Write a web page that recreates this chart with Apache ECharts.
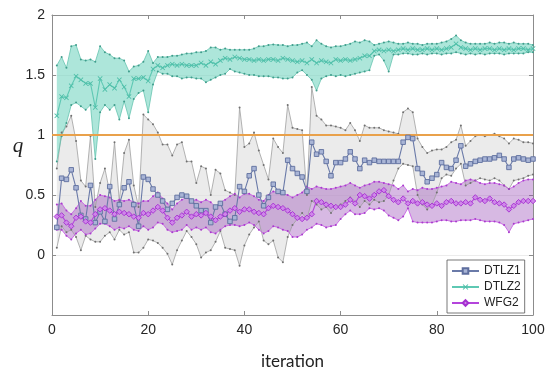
<!DOCTYPE html>
<html>
<head>
<meta charset="utf-8">
<script src="https://cdn.jsdelivr.net/npm/echarts@6/dist/echarts.min.js"></script>
<style>
html,body{margin:0;padding:0;background:#fff;}
#chart{width:558px;height:375px;}
</style>
</head>
<body>
<div id="chart"></div>
<script>
// ---------------- data ----------------
const iterations = Array.from({length: 100}, (_, k) => k + 1);
const xTicks = [0, 20, 40, 60, 80, 100];
const yTicks = [0, 0.5, 1, 1.5, 2];
const refLevel = 1;

const dtlz1Mean = [0.23,0.64,0.63,0.71,0.56,0.33,0.30,0.58,0.27,0.36,
  0.28,0.57,0.30,0.42,0.56,0.61,0.42,0.24,0.65,0.63,
  0.55,0.50,0.45,0.38,0.43,0.48,0.50,0.49,0.45,0.41,
  0.37,0.37,0.27,0.40,0.43,0.34,0.28,0.31,0.57,0.53,
  0.66,0.72,0.50,0.41,0.48,0.59,0.53,0.52,0.79,0.72,
  0.68,0.65,0.53,0.94,0.84,0.86,0.78,0.66,0.77,0.77,
  0.80,0.86,0.80,0.72,0.79,0.77,0.79,0.78,0.78,0.78,
  0.78,0.78,0.94,0.98,0.97,0.72,0.68,0.61,0.64,0.67,
  0.77,0.73,0.72,0.79,0.91,0.74,0.76,0.78,0.79,0.80,
  0.80,0.81,0.83,0.80,0.73,0.80,0.81,0.80,0.79,0.80];
const dtlz1Upper = [0.72,1.02,1.07,1.16,0.95,0.62,0.57,0.99,0.40,0.60,
  0.72,0.52,0.94,0.45,0.85,0.96,0.58,0.40,1.17,1.13,
  1.09,1.02,0.92,0.92,0.83,0.92,0.94,0.78,0.78,0.60,
  0.74,0.72,0.50,0.71,0.68,0.54,0.52,0.50,1.23,0.90,
  0.93,1.02,0.87,0.75,0.63,0.97,0.90,0.85,1.25,1.06,
  1.05,1.04,0.50,1.40,1.16,1.13,1.08,1.08,1.07,1.06,
  1.04,1.10,1.04,0.95,1.08,1.06,1.06,1.06,1.04,1.03,
  1.02,1.01,1.19,1.22,1.19,0.97,0.90,0.85,0.87,0.88,
  0.88,0.90,0.94,0.96,1.08,0.91,0.95,0.99,1.00,0.99,
  1.00,1.01,0.99,0.97,0.93,0.97,0.96,0.94,0.94,0.93];
const dtlz1Lower = [0.06,0.24,0.19,0.21,0.15,0.04,0.16,0.13,0.11,0.11,
  0.16,0.19,0.13,0.21,0.17,0.19,0.02,0.02,0.06,0.13,
  0.12,0.10,0.06,0.01,-0.08,0.04,0.12,0.20,0.15,0.09,
  -0.02,0.02,0.04,0.11,0.20,0.06,0.05,0.04,-0.09,0.08,
  0.17,0.23,0.28,0.12,0.09,0.12,-0.02,-0.06,0.15,0.25,
  0.30,0.35,0.30,0.45,0.42,0.38,0.40,0.35,0.40,0.42,
  0.45,0.48,0.44,0.40,0.45,0.42,0.46,0.44,0.45,0.50,
  0.62,0.72,0.76,0.75,0.74,0.50,0.42,0.38,0.42,0.52,
  0.64,0.67,0.66,0.72,0.76,0.58,0.60,0.62,0.64,0.63,
  0.62,0.64,0.62,0.58,0.55,0.62,0.63,0.64,0.66,0.67];

const dtlz2Mean = [1.16,1.32,1.31,1.41,1.49,1.46,1.43,1.43,1.23,1.47,
  1.38,1.42,1.39,1.46,1.40,1.32,1.47,1.47,1.48,1.45,
  1.55,1.58,1.56,1.58,1.59,1.58,1.59,1.58,1.58,1.58,
  1.60,1.58,1.61,1.59,1.62,1.64,1.63,1.65,1.64,1.63,
  1.63,1.62,1.63,1.62,1.63,1.63,1.62,1.64,1.63,1.62,
  1.61,1.62,1.60,1.63,1.60,1.62,1.61,1.60,1.63,1.62,
  1.63,1.62,1.63,1.64,1.66,1.66,1.70,1.71,1.70,1.71,
  1.70,1.71,1.72,1.71,1.72,1.71,1.71,1.72,1.71,1.72,
  1.71,1.72,1.73,1.76,1.73,1.72,1.71,1.72,1.71,1.72,
  1.72,1.71,1.72,1.71,1.72,1.71,1.72,1.72,1.71,1.72];
const dtlz2Upper = [1.58,1.65,1.56,1.74,1.75,1.63,1.62,1.63,1.61,1.74,
  1.69,1.67,1.64,1.64,1.62,1.53,1.57,1.58,1.61,1.70,
  1.60,1.65,1.65,1.65,1.66,1.66,1.67,1.68,1.68,1.69,
  1.69,1.70,1.73,1.73,1.71,1.72,1.71,1.71,1.71,1.71,
  1.71,1.72,1.74,1.74,1.75,1.755,1.75,1.75,1.74,1.75,
  1.75,1.76,1.77,1.74,1.79,1.76,1.74,1.73,1.74,1.74,
  1.75,1.76,1.78,1.77,1.79,1.78,1.75,1.76,1.77,1.78,
  1.77,1.76,1.76,1.77,1.76,1.76,1.75,1.76,1.76,1.76,
  1.77,1.78,1.80,1.83,1.79,1.77,1.76,1.76,1.76,1.76,
  1.77,1.76,1.77,1.77,1.76,1.77,1.76,1.76,1.76,1.75];
const dtlz2Lower = [0.78,0.99,1.10,1.25,1.27,1.24,1.21,1.25,0.80,1.19,
  1.25,1.21,1.25,1.13,1.28,1.14,1.30,1.35,1.37,1.19,
  1.42,1.53,1.51,1.51,1.49,1.49,1.47,1.48,1.48,1.47,
  1.47,1.44,1.46,1.48,1.50,1.51,1.55,1.53,1.52,1.51,
  1.50,1.50,1.49,1.49,1.49,1.48,1.48,1.47,1.47,1.48,
  1.52,1.54,1.50,1.46,1.37,1.47,1.49,1.50,1.49,1.50,
  1.49,1.50,1.51,1.52,1.53,1.54,1.66,1.67,1.62,1.53,
  1.67,1.67,1.68,1.68,1.67,1.67,1.68,1.67,1.68,1.68,
  1.67,1.68,1.68,1.69,1.68,1.67,1.68,1.67,1.68,1.67,
  1.68,1.68,1.68,1.67,1.68,1.68,1.68,1.68,1.69,1.69];

const wfg2Mean = [0.32,0.33,0.27,0.24,0.31,0.32,0.28,0.27,0.34,0.38,
  0.39,0.37,0.34,0.36,0.35,0.34,0.32,0.31,0.35,0.34,
  0.37,0.40,0.37,0.31,0.27,0.31,0.33,0.36,0.32,0.34,
  0.33,0.35,0.32,0.29,0.32,0.34,0.37,0.39,0.36,0.38,
  0.38,0.36,0.35,0.34,0.39,0.41,0.40,0.39,0.37,0.34,
  0.31,0.30,0.31,0.34,0.45,0.44,0.42,0.41,0.40,0.40,
  0.42,0.46,0.43,0.50,0.49,0.47,0.50,0.53,0.54,0.49,
  0.46,0.44,0.47,0.43,0.45,0.43,0.44,0.42,0.41,0.43,
  0.41,0.44,0.45,0.43,0.43,0.44,0.43,0.48,0.46,0.45,
  0.47,0.44,0.43,0.42,0.38,0.41,0.44,0.45,0.45,0.45];
const wfg2Upper = [0.42,0.43,0.37,0.34,0.39,0.45,0.41,0.41,0.46,0.50,
  0.49,0.48,0.45,0.46,0.45,0.46,0.44,0.43,0.45,0.45,
  0.49,0.52,0.47,0.43,0.38,0.43,0.46,0.48,0.45,0.46,
  0.44,0.46,0.44,0.40,0.44,0.46,0.49,0.51,0.48,0.51,
  0.51,0.49,0.46,0.45,0.50,0.53,0.52,0.51,0.50,0.48,
  0.50,0.52,0.57,0.55,0.57,0.56,0.55,0.55,0.56,0.57,
  0.58,0.60,0.58,0.56,0.58,0.59,0.61,0.61,0.60,0.59,
  0.58,0.55,0.58,0.53,0.55,0.54,0.56,0.55,0.55,0.56,
  0.57,0.58,0.61,0.60,0.59,0.62,0.63,0.62,0.60,0.59,
  0.60,0.60,0.59,0.58,0.55,0.57,0.60,0.62,0.63,0.63];
const wfg2Lower = [0.21,0.21,0.16,0.13,0.18,0.21,0.17,0.18,0.22,0.26,
  0.26,0.24,0.21,0.23,0.22,0.24,0.21,0.20,0.24,0.21,
  0.23,0.27,0.26,0.21,0.19,0.20,0.21,0.25,0.21,0.23,
  0.21,0.23,0.19,0.18,0.21,0.24,0.25,0.25,0.24,0.25,
  0.27,0.25,0.21,0.18,0.20,0.24,0.23,0.21,0.20,0.15,
  0.15,0.17,0.21,0.23,0.26,0.25,0.23,0.24,0.25,0.30,
  0.34,0.37,0.34,0.34,0.35,0.39,0.38,0.39,0.37,0.33,
  0.31,0.29,0.32,0.39,0.28,0.27,0.27,0.27,0.27,0.28,
  0.29,0.29,0.28,0.28,0.29,0.29,0.29,0.30,0.29,0.28,
  0.28,0.28,0.27,0.25,0.19,0.26,0.27,0.28,0.29,0.30];

// ---------------- helpers ----------------
const pts = arr => arr.map((v, k) => [iterations[k], v]);

// band drawn as one polygon (upper forward, lower backward), mapped through the axes
function band(lo, hi, fill, z) {
  const rows = iterations.map((x, k) => [x, lo[k], hi[k]]);
  return {
    type:'custom', data: rows, z: z, silent:true, animation:false,
    encode:{x:0, y:[1,2]},
    renderItem: function (params, api) {
      if (params.dataIndex !== 0) return null;
      const up = rows.map(r => api.coord([r[0], r[2]]));
      const dn = rows.map(r => api.coord([r[0], r[1]])).reverse();
      return {type:'polygon', shape:{points: up.concat(dn)}, style:{fill: fill, stroke:'none'}};
    }
  };
}
function edge(arr, lineColor, dotColor, z) {
  return {type:'line', data:pts(arr), symbol:'circle', symbolSize:2, showSymbol:true,
    itemStyle:{color:dotColor}, lineStyle:{color:lineColor, width:0.8},
    silent:true, z:z, animation:false};
}

const xMark = 'path://M0,1.2L1.2,0L5,3.8L8.8,0L10,1.2L6.2,5L10,8.8L8.8,10L5,6.2L1.2,10L0,8.8L3.8,5Z';

const series = [
  band(dtlz1Lower, dtlz1Upper, 'rgba(222,222,222,0.6)', 1),
  band(dtlz2Lower, dtlz2Upper, 'rgba(118,214,193,0.6)', 2),
  band(wfg2Lower, wfg2Upper, 'rgba(150,72,182,0.38)', 3),
  edge(dtlz1Upper, '#a0a0a0', '#707070', 4),
  edge(dtlz1Lower, '#a0a0a0', '#707070', 4),
  edge(dtlz2Upper, '#66c4b0', '#3f9c8b', 4),
  edge(dtlz2Lower, '#66c4b0', '#3f9c8b', 4),
  edge(wfg2Upper, '#c656e4', '#a83ccc', 4),
  edge(wfg2Lower, '#c656e4', '#a83ccc', 4),
  {type:'line', name:'refline', data:[], z:5, silent:true, animation:false,
   markLine:{symbol:'none', silent:true, label:{show:false}, animation:false,
     lineStyle:{color:'#E9A14B', width:2, type:'solid'},
     data:[{yAxis: refLevel}]}},
  {type:'line', name:'DTLZ1', data:pts(dtlz1Mean), symbol:'rect', symbolSize:4.5,
   lineStyle:{color:'#6a7aa8', width:1.1},
   itemStyle:{color:'#a9b5d6', borderColor:'#5e6e9e', borderWidth:0.9}, z:6, animation:false},
  {type:'line', name:'DTLZ2', data:pts(dtlz2Mean), symbol:xMark, symbolSize:5,
   lineStyle:{color:'#5ec8b3', width:1.1},
   itemStyle:{color:'#4fbfa9'}, z:6, animation:false},
  {type:'line', name:'WFG2', data:pts(wfg2Mean), symbol:'diamond', symbolSize:5.5,
   lineStyle:{color:'#b444dc', width:1.1},
   itemStyle:{color:'#cf86ea', borderColor:'#a530d0', borderWidth:0.9}, z:6, animation:false}
];

const axisColor = '#8c8c8c';
const chart = echarts.init(document.getElementById('chart'), null, {renderer:'canvas'});
chart.setOption({
  animation:false,
  backgroundColor:'#ffffff',
  grid:{left:52, right:25, top:15, bottom:56},
  xAxis:[
    {type:'value', min:xTicks[0], max:xTicks[xTicks.length-1], interval:xTicks[1]-xTicks[0],
     name:'iteration', nameLocation:'middle', nameGap:38,
     nameTextStyle:{fontFamily:'Lato', fontSize:17, color:'#222'},
     axisLine:{show:true, onZero:false, lineStyle:{color:axisColor, width:1}},
     axisTick:{show:true, inside:true, length:4, lineStyle:{color:axisColor}},
     axisLabel:{margin:8, fontFamily:'Liberation Sans', fontSize:14, color:'#262626'},
     splitLine:{show:false}},
    {type:'value', position:'top', min:xTicks[0], max:xTicks[xTicks.length-1], interval:xTicks[1]-xTicks[0],
     axisLine:{show:true, onZero:false, lineStyle:{color:axisColor, width:1}},
     axisTick:{show:true, inside:true, length:4, lineStyle:{color:axisColor}},
     axisLabel:{show:false}, splitLine:{show:false}}
  ],
  yAxis:[
    {type:'value', min:-0.5, max:yTicks[yTicks.length-1], interval:0.5,
     axisLine:{show:true, onZero:false, lineStyle:{color:axisColor, width:1}},
     axisTick:{show:true, inside:true, length:4, lineStyle:{color:axisColor}},
     axisLabel:{margin:7, fontFamily:'Liberation Sans', fontSize:14, color:'#262626',
       formatter: v => (yTicks.indexOf(v) >= 0 ? String(v) : '')},
     splitLine:{show:true, lineStyle:{color:'#ececec', width:1}}},
    {type:'value', position:'right', min:-0.5, max:yTicks[yTicks.length-1], interval:0.5,
     axisLine:{show:true, onZero:false, lineStyle:{color:axisColor, width:1}},
     axisTick:{show:true, inside:true, length:4, lineStyle:{color:axisColor}},
     axisLabel:{show:false}, splitLine:{show:false}}
  ],
  legend:{
    data:['DTLZ1','DTLZ2','WFG2'], orient:'vertical', left:447, top:260,
    backgroundColor:'#ffffff', borderColor:'#555', borderWidth:0.8,
    padding:[4,4,3,4], itemWidth:27, itemHeight:7, itemGap:2,
    textStyle:{fontFamily:'Liberation Sans', fontSize:12, lineHeight:14, color:'#222'},
    selectedMode:false
  },
  graphic:[
    {type:'text', x:18, y:146,
     style:{text:'q', font:'italic 21px "Liberation Serif"', fill:'#222',
       textAlign:'center', textVerticalAlign:'middle'}}
  ],
  series: series
});
</script>
</body>
</html>
